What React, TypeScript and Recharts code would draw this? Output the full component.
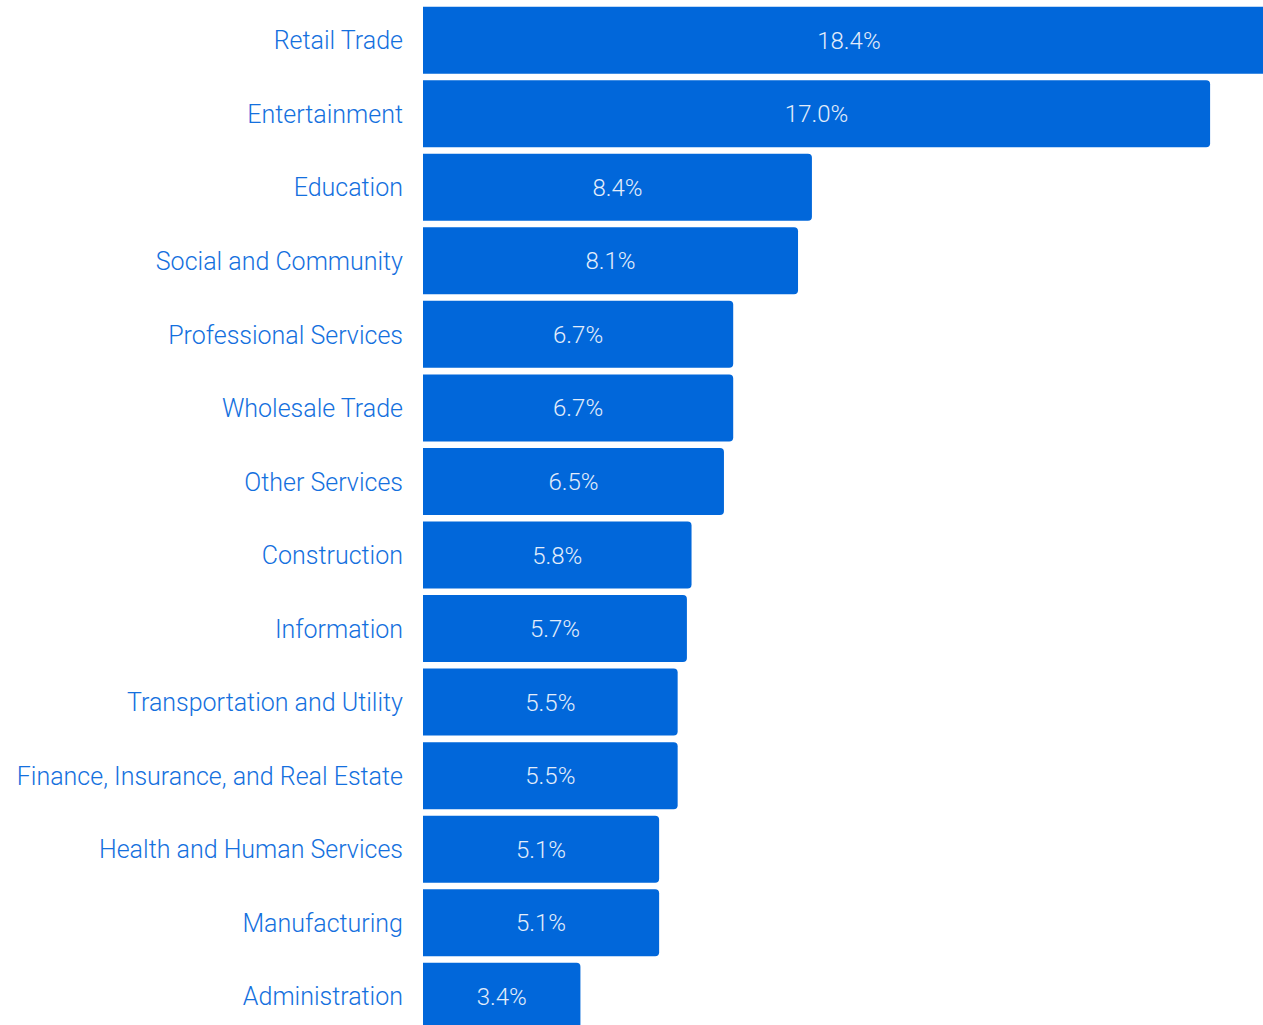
import React from "react";
import { BarChart, Bar, XAxis, YAxis, LabelList } from "recharts";

const categories = [
  "Retail Trade",
  "Entertainment",
  "Education",
  "Social and Community",
  "Professional Services",
  "Wholesale Trade",
  "Other Services",
  "Construction",
  "Information",
  "Transportation and Utility",
  "Finance, Insurance, and Real Estate",
  "Health and Human Services",
  "Manufacturing",
  "Administration",
];
const shares = [18.4, 17.0, 8.4, 8.1, 6.7, 6.7, 6.5, 5.8, 5.7, 5.5, 5.5, 5.1, 5.1, 3.4];

const data = categories.map((name, i) => ({ name, value: shares[i] }));

const FONT = "'Roboto', sans-serif";

export default function App() {
  return (
    <div style={{ position: "absolute", left: 0, top: 0, width: 1263, height: 1025, overflow: "hidden", background: "#fff" }}>
      <BarChart
        width={1349}
        height={1040}
        data={data}
        layout="vertical"
        margin={{ top: 3.7, right: 0, bottom: 6.7, left: 0 }}
        barSize={67}
      >
        <XAxis type="number" domain={[0, 20]} hide />
        <YAxis
          type="category"
          dataKey="name"
          width={423}
          axisLine={false}
          tickLine={false}
          tickSize={0}
          tickMargin={20}
          interval={0}
          tick={{ fill: "#1470de", fontSize: 25, fontWeight: 300, fontFamily: FONT }}
        />
        <Bar dataKey="value" fill="#0167da" radius={[0, 4, 4, 0]} isAnimationActive={false}>
          <LabelList
            dataKey="value"
            position="center"
            formatter={(v: number) => `${v.toFixed(1)}%`}
            style={{ fill: "#e3edfb", fontSize: 24, fontWeight: 300, fontFamily: FONT }}
          />
        </Bar>
      </BarChart>
    </div>
  );
}
